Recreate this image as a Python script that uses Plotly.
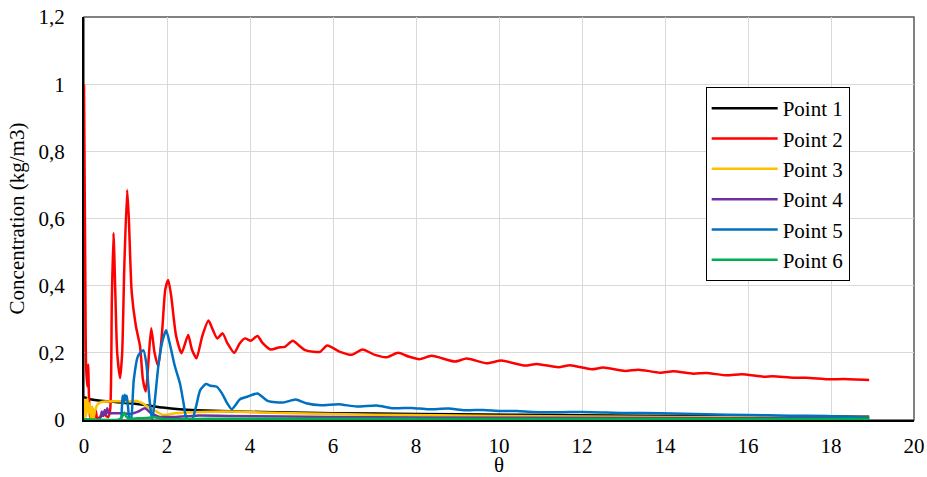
import plotly.graph_objects as go

# ---- data ----
theta_p1 = [0, 0.15, 0.4, 0.7, 1.1, 1.5, 1.9, 2.3, 2.7, 3.5, 5, 7, 9, 12, 15, 18.92]
conc_p1 = [0.068, 0.062, 0.057, 0.054, 0.05, 0.044, 0.037, 0.032, 0.029, 0.026, 0.022, 0.019, 0.017, 0.014, 0.012, 0.010]

theta_p2 = [0, 0.03, 0.05, 0.08, 0.1, 0.13, 0.16, 0.2, 0.24, 0.28, 0.32, 0.4, 0.5, 0.58, 0.63, 0.67,
            0.71, 0.75, 0.8, 0.87, 0.92, 0.97, 1.04, 1.08, 1.15, 1.25, 1.35, 1.42, 1.49, 1.55, 1.62,
            1.7, 1.79, 1.88, 1.96, 2.03, 2.1, 2.22, 2.35, 2.51, 2.6, 2.71, 2.85, 3.0, 3.1, 3.21, 3.34,
            3.45, 3.62, 3.75, 3.88, 4.02, 4.18, 4.3, 4.5, 4.69, 4.84, 5.03, 5.18, 5.33, 5.53, 5.69,
            5.86, 6.17, 6.45, 6.71, 7.01, 7.29, 7.57, 7.82, 8.08, 8.38, 8.94, 9.22, 9.70, 10.06, 10.63,
            10.91, 11.43, 11.71, 12.23, 12.51, 13.04, 13.36, 13.88, 14.2, 14.68, 15.0, 15.49, 15.85,
            16.37, 16.6, 17.09, 17.4, 17.98, 18.3, 18.92]
conc_p2 = [1.0, 0.45, 0.16, 0.10, 0.165, 0.03, 0.0, 0.035, 0.0, 0.03, 0.004, 0.01, 0.015, 0.008, 0.03, 0.35,
           0.557, 0.40, 0.2, 0.125, 0.2, 0.45, 0.685, 0.6, 0.38, 0.28, 0.22, 0.12, 0.085, 0.17, 0.273,
           0.2, 0.16, 0.26, 0.39, 0.417, 0.37, 0.25, 0.199, 0.253, 0.21, 0.184, 0.25, 0.296, 0.27, 0.243, 0.258,
           0.23, 0.2, 0.228, 0.243, 0.236, 0.25, 0.23, 0.21, 0.216, 0.218, 0.236, 0.222, 0.208, 0.203, 0.203,
           0.222, 0.203, 0.194, 0.21, 0.194, 0.187, 0.2, 0.189, 0.181, 0.191, 0.174, 0.183, 0.169, 0.177, 0.162,
           0.167, 0.157, 0.163, 0.151, 0.156, 0.146, 0.150, 0.141, 0.145, 0.138, 0.140, 0.133, 0.136,
           0.129, 0.130, 0.126, 0.126, 0.121, 0.122, 0.119]

theta_p3 = [0, 0.02, 0.05, 0.08, 0.11, 0.14, 0.17, 0.2, 0.23, 0.27, 0.32, 0.38, 0.5, 0.8, 1.1, 1.27,
            1.4, 1.59, 1.75, 1.91, 2.2, 2.8, 3.5, 5, 7, 10, 14, 18.92]
conc_p3 = [0.0, 0.06, 0.01, 0.065, 0.02, 0.05, 0.0, 0.04, 0.005, 0.03, 0.045, 0.052, 0.055, 0.056, 0.055, 0.057,
           0.05, 0.035, 0.025, 0.015, 0.02, 0.024, 0.025, 0.02, 0.016, 0.012, 0.009, 0.007]

theta_p4 = [0, 0.35, 0.4, 0.43, 0.46, 0.5, 0.53, 0.56, 0.6, 0.7, 0.9, 1.1, 1.3, 1.47, 1.6, 1.8,
            2.2, 2.7, 3.5, 6, 10, 18.92]
conc_p4 = [0, 0, 0.01, 0.025, 0.012, 0.03, 0.015, 0.035, 0.02, 0.02, 0.02, 0.018, 0.025, 0.035, 0.022, 0.01,
           0.009, 0.013, 0.012, 0.009, 0.007, 0.005]

theta_p5 = [0, 0.88, 0.91, 0.93, 0.96, 0.98, 1.0, 1.03, 1.06, 1.1, 1.13, 1.2, 1.3, 1.43, 1.5, 1.58,
            1.64, 1.7, 1.8, 1.9, 1.98, 2.08, 2.19, 2.31, 2.4, 2.47, 2.6, 2.7, 2.8, 2.94, 3.05, 3.2,
            3.32, 3.45, 3.56, 3.76, 3.95, 4.18, 4.44, 4.8, 5.1, 5.35, 5.72, 6.13, 6.57, 7.05, 7.45,
            7.89, 8.3, 8.78, 9.18, 9.62, 10.02, 10.43, 10.83, 11.47, 12.0, 13.0, 13.88, 15.0, 15.97,
            17.0, 17.9, 18.5, 18.92]
conc_p5 = [0, 0, 0.03, 0.072, 0.05, 0.075, 0.06, 0.072, 0.04, 0.0, 0.0, 0.12, 0.19, 0.208, 0.17, 0.06,
           0.0, 0.05, 0.17, 0.24, 0.267, 0.22, 0.16, 0.11, 0.05, 0.005, 0.0, 0.04, 0.089, 0.107, 0.102, 0.099,
           0.08, 0.05, 0.032, 0.062, 0.07, 0.079, 0.056, 0.052, 0.061, 0.05, 0.044, 0.047, 0.04, 0.043, 0.035,
           0.036, 0.032, 0.034, 0.029, 0.030, 0.027, 0.027, 0.024, 0.023, 0.024, 0.021, 0.020, 0.017, 0.015,
           0.013, 0.012, 0.009, 0.006]

theta_p6 = [0, 0.85, 0.92, 0.97, 1.02, 1.1, 1.3, 1.5, 1.7, 1.9, 3, 10, 18.92]
conc_p6 = [0.002, 0.002, 0.01, 0.022, 0.01, 0.003, 0.005, 0.006, 0.008, 0.003, 0.004, 0.003, 0.003]

series_names = ["Point 1", "Point 2", "Point 3", "Point 4", "Point 5", "Point 6"]
x_ticks = [0, 2, 4, 6, 8, 10, 12, 14, 16, 18, 20]
y_ticks = [0, 0.2, 0.4, 0.6, 0.8, 1.0, 1.2]

colors = ["#000000", "#FF0000", "#FFC000", "#7030A0", "#0070C0", "#00B050"]
xs = [theta_p1, theta_p2, theta_p3, theta_p4, theta_p5, theta_p6]
ys = [conc_p1, conc_p2, conc_p3, conc_p4, conc_p5, conc_p6]

FONT = "Times New Roman, Liberation Serif, DejaVu Serif, serif"
FS = 21

fig = go.Figure()
for i, (name, x, y) in enumerate(zip(series_names, xs, ys)):
    fig.add_trace(go.Scatter(
        x=x, y=y, mode="lines", name=name, legendgroup=name,
        line=dict(color=colors[i], width=2.5, shape="spline", smoothing=0.6),
    ))

fig.update_layout(
    width=927, height=477,
    margin=dict(l=84, r=13, t=17, b=57),
    paper_bgcolor="white", plot_bgcolor="white",
    separators=", ",
    font=dict(family=FONT, size=FS, color="black"),
    showlegend=True,
    legend=dict(
        x=0.749, y=0.826, xanchor="left", yanchor="top",
        bgcolor="white", bordercolor="black", borderwidth=1,
        font=dict(family=FONT, size=FS, color="black"),
        tracegroupgap=0,
        itemwidth=66,
    ),
    xaxis=dict(
        range=[0, 20], tickvals=x_ticks, automargin=False,
        showgrid=True, gridcolor="#d9d9d9", gridwidth=1,
        showline=True, linecolor="black", linewidth=2,
        zeroline=False, ticks="", ticklabelstandoff=6, ticklabeloverflow="allow",
        title=dict(text="θ", font=dict(family=FONT, size=FS), standoff=5),
        tickfont=dict(family=FONT, size=FS),
    ),
    yaxis=dict(
        range=[0, 1.2], tickvals=y_ticks, automargin=False,
        showgrid=True, gridcolor="#d9d9d9", gridwidth=1,
        showline=True, linecolor="black", linewidth=2,
        zeroline=False, ticks="", ticklabelstandoff=13, ticklabeloverflow="allow",
        title=dict(text="Concentration (kg/m3)", font=dict(family=FONT, size=FS), standoff=8),
        tickfont=dict(family=FONT, size=FS),
    ),
    shapes=[dict(type="rect", xref="paper", yref="paper", x0=0, y0=0, x1=1, y1=1,
                 line=dict(color="#595959", width=1.5), layer="below")],
)

# remove the default 8px page margin so the figure fills the window exactly
fig.write_html("out.html", config={"displayModeBar": False},
               post_script="document.body.style.margin='0px';")
